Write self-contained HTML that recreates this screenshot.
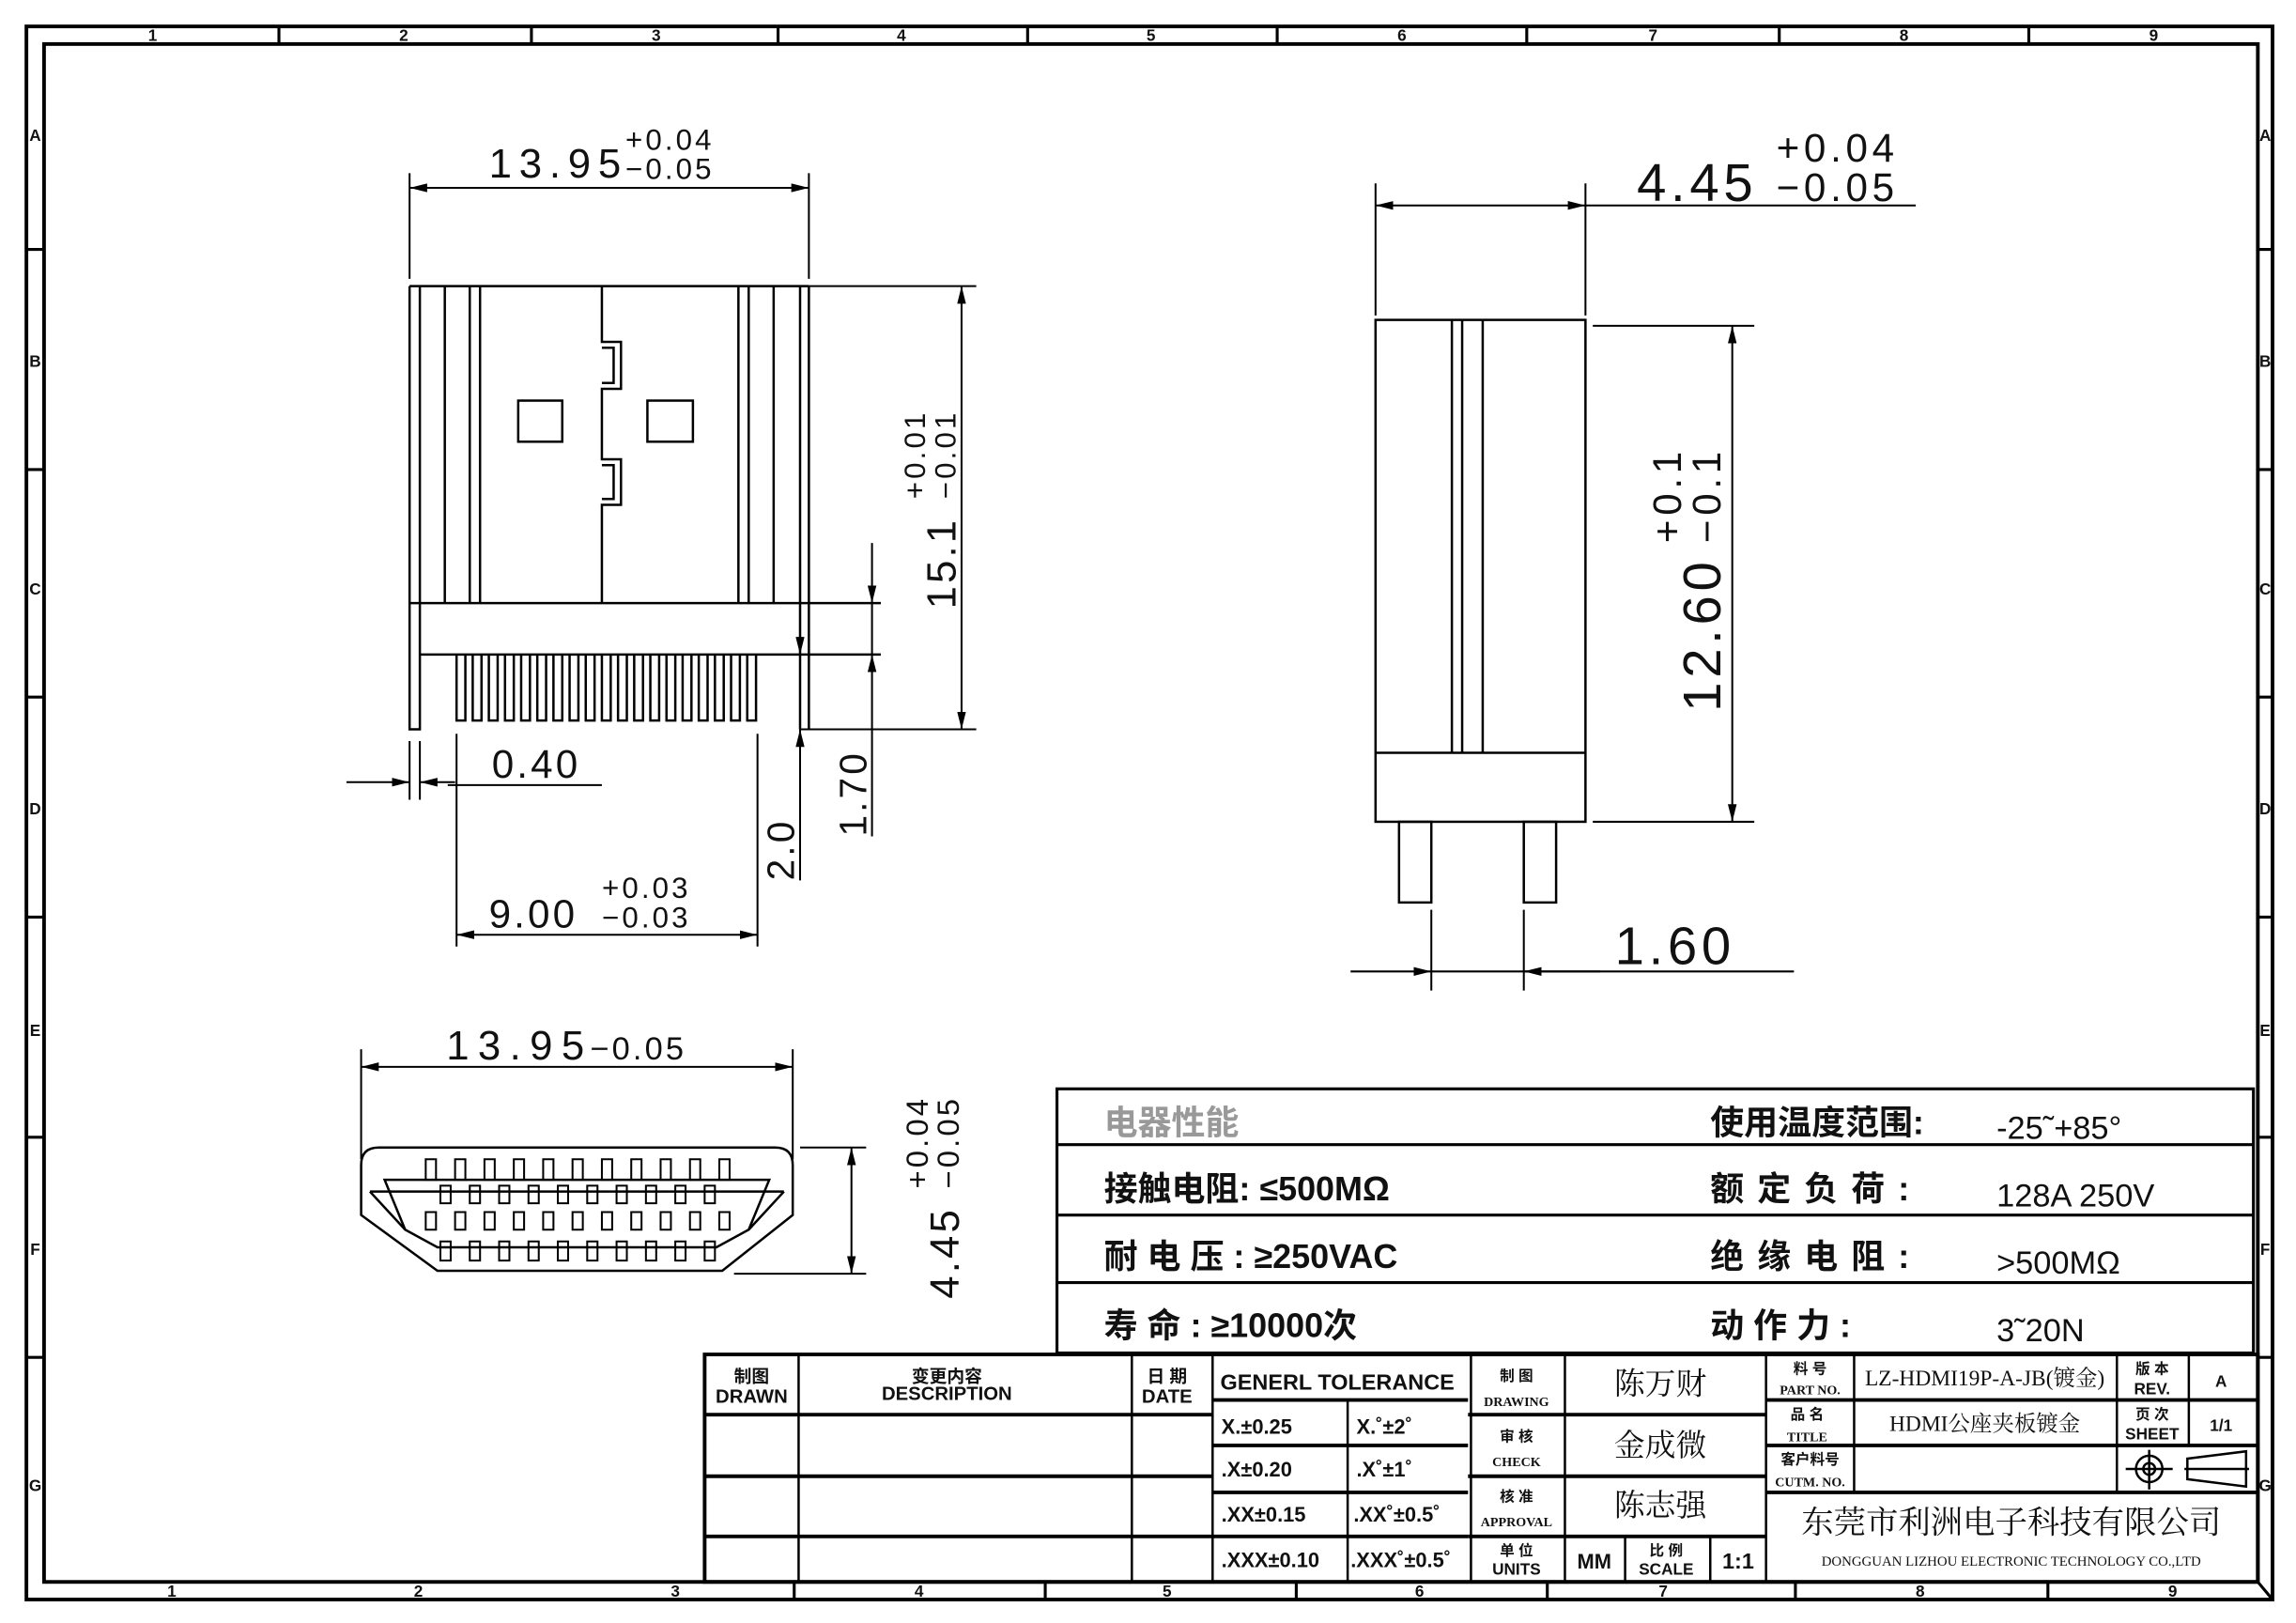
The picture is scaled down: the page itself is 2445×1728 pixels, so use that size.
<!DOCTYPE html>
<html><head><meta charset="utf-8"><style>
html,body{margin:0;padding:0;background:#fff;}
svg{display:block;}
text{font-family:"Liberation Sans","Noto Sans CJK SC",sans-serif;fill:#111;}
.sf{font-family:"Liberation Serif","Noto Serif CJK SC",serif;}
</style></head><body>
<svg width="2445" height="1728" viewBox="0 0 1564 1106" preserveAspectRatio="none" xmlns="http://www.w3.org/2000/svg">
<defs>
<marker id="a" viewBox="0 0 12 6" refX="12" refY="3" markerWidth="12" markerHeight="6" markerUnits="userSpaceOnUse" orient="auto-start-reverse"><path d="M0,0 L12,3 L0,6 z" fill="#000"/></marker>
</defs>
<rect width="1564" height="1106" fill="#fff"/>
<g fill="none" stroke="#000">
<rect x="18" y="18" width="1530" height="1072" stroke-width="2.5"/>
<rect x="30" y="30" width="1508" height="1048" stroke-width="2.5"/>
<g stroke-width="2">
<path d="M190,18V30 M362,18V30 M530,18V30 M700,18V30 M870,18V30 M1040,18V30 M1212,18V30 M1382,18V30"/>
<path d="M541,1078V1090 M712,1078V1090 M883,1078V1090 M1054,1078V1090 M1223,1078V1090 M1395,1078V1090"/>
<path d="M18,170H30 M18,320H30 M18,475H30 M18,625H30 M18,775H30 M18,925H30"/>
<path d="M1538,170H1548 M1538,320H1548 M1538,475H1548 M1538,625H1548 M1538,775H1548 M1538,925H1548"/>
<path d="M1538,1078 L1548,1090"/>
</g>
</g>
<g font-size="11" font-weight="bold" text-anchor="middle">
<text x="104" y="28">1</text><text x="275" y="28">2</text><text x="447" y="28">3</text><text x="614" y="28">4</text><text x="784" y="28">5</text><text x="955" y="28">6</text><text x="1126" y="28">7</text><text x="1297" y="28">8</text><text x="1467" y="28">9</text>
<text x="117" y="1088">1</text><text x="285" y="1088">2</text><text x="460" y="1088">3</text><text x="626" y="1088">4</text><text x="795" y="1088">5</text><text x="967" y="1088">6</text><text x="1133" y="1088">7</text><text x="1308" y="1088">8</text><text x="1480" y="1088">9</text>
<text x="24" y="96">A</text><text x="24" y="250">B</text><text x="24" y="405">C</text><text x="24" y="555">D</text><text x="24" y="706">E</text><text x="24" y="855">F</text><text x="24" y="1016">G</text>
<text x="1543" y="96">A</text><text x="1543" y="250">B</text><text x="1543" y="405">C</text><text x="1543" y="555">D</text><text x="1543" y="706">E</text><text x="1543" y="855">F</text><text x="1543" y="1016">G</text>
</g>

<g fill="none" stroke="#000" stroke-width="1.6">
<path d="M279,195H551 M279,195V497H286V195 M303,195V411 M320,195V411 M327,195V411 M410,195V233H423V265H410V313H423V344H410V411 M410,237H418V261H410 M410,317H418V340H410 M503,195V411 M510,195V411 M527,195V411 M545,195V497 M551,195V497"/>
<path d="M279,411H600 M286,446H600"/>
<rect x="353" y="273" width="30" height="28"/>
<rect x="441" y="273" width="31" height="28"/>
<path d="M311,446V491H317V446 M322,446V491H328V446 M333,446V491H339V446 M344,446V491H350V446 M355,446V491H361V446 M366,446V491H372V446 M377,446V491H383V446 M388,446V491H394V446 M399,446V491H405V446 M410,446V491H416V446 M421,446V491H427V446 M432,446V491H438V446 M443,446V491H449V446 M454,446V491H460V446 M465,446V491H471V446 M476,446V491H482V446 M487,446V491H493V446 M498,446V491H504V446 M509,446V491H515V446"/>
</g>
<g fill="none" stroke="#000" stroke-width="1.3">
<path d="M279,118V190 M551,118V190"/>
<line x1="279" y1="128" x2="551" y2="128" marker-start="url(#a)" marker-end="url(#a)"/>
<path d="M551,195H665 M545,497H665"/>
<line x1="655" y1="195" x2="655" y2="497" marker-start="url(#a)" marker-end="url(#a)"/>
<line x1="594" y1="370" x2="594" y2="411" marker-end="url(#a)"/>
<line x1="594" y1="570" x2="594" y2="446" marker-end="url(#a)"/>
<line x1="594" y1="411" x2="594" y2="446"/>
<line x1="545" y1="380" x2="545" y2="446" marker-end="url(#a)"/>
<line x1="545" y1="600" x2="545" y2="497" marker-end="url(#a)"/>
<path d="M279,505V545 M286,505V545"/>
<line x1="236" y1="533" x2="279" y2="533" marker-end="url(#a)"/>
<line x1="310" y1="533" x2="286" y2="533" marker-end="url(#a)"/>
<line x1="305" y1="535" x2="410" y2="535"/>
<path d="M311,500V645 M516,500V645"/>
<line x1="311" y1="637" x2="516" y2="637" marker-start="url(#a)" marker-end="url(#a)"/>
</g>
<g font-size="28" letter-spacing="2">
<text x="333" y="121" textLength="92">13.95</text>
<text x="426" y="102" font-size="20">+0.04</text>
<text x="426" y="122" font-size="20">−0.05</text>
<text x="335" y="530" font-size="27">0.40</text>
<text x="333" y="632" font-size="27">9.00</text>
<text x="410" y="612" font-size="20">+0.03</text>
<text x="410" y="632" font-size="20">−0.03</text>
<text transform="translate(651,415) rotate(-90)" font-size="28">15.1</text>
<text transform="translate(630,340) rotate(-90)" font-size="20">+0.01</text>
<text transform="translate(651,340) rotate(-90)" font-size="20">−0.01</text>
<text transform="translate(590,570) rotate(-90)" font-size="26">1.70</text>
<text transform="translate(541,600) rotate(-90)" font-size="26">2.0</text>
</g>

<g fill="none" stroke="#000" stroke-width="1.3">
<path d="M246,715V790 M540,715V790"/>
<line x1="246" y1="727" x2="540" y2="727" marker-start="url(#a)" marker-end="url(#a)"/>
<path d="M545,782H590 M500,868H590"/>
<line x1="580" y1="782" x2="580" y2="868" marker-start="url(#a)" marker-end="url(#a)"/>
</g>
<g fill="none" stroke="#000" stroke-width="1.6">
<path d="M258,782H528Q540,782 540,794V828L492,866H298L246,828V794Q246,782 258,782Z"/>
<path d="M262,804H524L510,838L488,850H298L276,838Z"/>
<path d="M252,812H534 M252,812L276,838 M534,812L510,838"/>
<g stroke-width="1.3">
<path d="M290,790h7v14h-7z M310,790h7v14h-7z M330,790h7v14h-7z M350,790h7v14h-7z M370,790h7v14h-7z M390,790h7v14h-7z M410,790h7v14h-7z M430,790h7v14h-7z M450,790h7v14h-7z M470,790h7v14h-7z M490,790h7v14h-7z"/>
<path d="M300,808h7v12h-7z M320,808h7v12h-7z M340,808h7v12h-7z M360,808h7v12h-7z M380,808h7v12h-7z M400,808h7v12h-7z M420,808h7v12h-7z M440,808h7v12h-7z M460,808h7v12h-7z M480,808h7v12h-7z"/>
<path d="M290,826h7v12h-7z M310,826h7v12h-7z M330,826h7v12h-7z M350,826h7v12h-7z M370,826h7v12h-7z M390,826h7v12h-7z M410,826h7v12h-7z M430,826h7v12h-7z M450,826h7v12h-7z M470,826h7v12h-7z M490,826h7v12h-7z"/>
<path d="M300,846h7v13h-7z M320,846h7v13h-7z M340,846h7v13h-7z M360,846h7v13h-7z M380,846h7v13h-7z M400,846h7v13h-7z M420,846h7v13h-7z M440,846h7v13h-7z M460,846h7v13h-7z M480,846h7v13h-7z"/>
</g>
</g>
<g font-size="28" letter-spacing="2">
<text x="304" y="722" textLength="96">13.95</text>
<text x="402" y="722" font-size="22">−0.05</text>
<text transform="translate(653,885) rotate(-90)" font-size="28">4.45</text>
<text transform="translate(632,810) rotate(-90)" font-size="21">+0.04</text>
<text transform="translate(653,810) rotate(-90)" font-size="21">−0.05</text>
</g>

<g fill="none" stroke="#000" stroke-width="1.6">
<rect x="937" y="218" width="143" height="342"/>
<path d="M937,513H1080 M989,218V513 M996,218V513 M1010,218V513"/>
<rect x="953" y="560" width="22" height="55"/>
<rect x="1038" y="560" width="22" height="55"/>
</g>
<g fill="none" stroke="#000" stroke-width="1.3">
<path d="M937,125V215 M1080,125V215"/>
<line x1="937" y1="140" x2="1080" y2="140" marker-start="url(#a)" marker-end="url(#a)"/>
<line x1="1080" y1="140" x2="1305" y2="140"/>
<path d="M1085,222H1195 M1085,560H1195"/>
<line x1="1180" y1="222" x2="1180" y2="560" marker-start="url(#a)" marker-end="url(#a)"/>
<path d="M975,620V675 M1038,620V675"/>
<line x1="920" y1="662" x2="975" y2="662" marker-end="url(#a)"/>
<line x1="1090" y1="662" x2="1038" y2="662" marker-end="url(#a)"/>
<line x1="975" y1="662" x2="1222" y2="662"/>
</g>
<g font-size="36" letter-spacing="3">
<text x="1115" y="137">4.45</text>
<text x="1210" y="110" font-size="27">+0.04</text>
<text x="1210" y="137" font-size="27">−0.05</text>
<text x="1100" y="657">1.60</text>
<text transform="translate(1172,485) rotate(-90)">12.60</text>
<text transform="translate(1145,370) rotate(-90)" font-size="27">+0.1</text>
<text transform="translate(1172,370) rotate(-90)" font-size="27">−0.1</text>
</g>

<g fill="none" stroke="#000" stroke-width="2">
<rect x="720" y="742" width="815" height="180"/>
<path d="M720,780H1535 M720,828H1535 M720,874H1535"/>
</g>
<g font-size="23" font-weight="bold" fill="#222">
<text x="752" y="773" style="fill:#999">电器性能</text>
<text x="1165" y="773">使用温度范围:</text>
<text x="752" y="818">接触电阻: ≤500MΩ</text>
<text x="1165" y="818" letter-spacing="9">额定负荷:</text>
<text x="752" y="864">耐 电 压 : ≥250VAC</text>
<text x="1165" y="864" letter-spacing="9">绝缘电阻:</text>
<text x="752" y="911">寿  命  : ≥10000次</text>
<text x="1165" y="911">动  作  力  :</text>
</g>
<g font-size="22" fill="#222">
<text x="1360" y="776">-25˜+85°</text>
<text x="1360" y="822">128A 250V</text>
<text x="1360" y="868">&gt;500MΩ</text>
<text x="1360" y="914">3˜20N</text>
</g>

<g fill="none" stroke="#000">
<rect x="480" y="923" width="1058" height="155" stroke-width="2.5"/>
<g stroke-width="2.5">
<path d="M480,964H826 M480,1006H826 M480,1047H826"/>
<path d="M826,954H1000 M826,985H1000 M826,1017H1000 M826,1047H1000"/>
<path d="M1000,964H1203 M1000,1006H1203 M1000,1047H1203"/>
<path d="M1203,954H1538 M1203,985H1538 M1203,1017H1538"/>
</g>
<g stroke-width="1.6">
<path d="M544,923V1078 M771,923V1078 M826,923V1078 M918,954V1078 M1002,923V1078 M1066,923V1078 M1107,1047V1078 M1165,1047V1078 M1203,923V1078 M1263,923V1017 M1442,923V1017 M1491,923V985"/>
</g>
<circle cx="1464" cy="1001" r="9" stroke-width="1.6"/>
<circle cx="1464" cy="1001" r="4" stroke-width="1.6"/>
<path d="M1448,1001H1480 M1464,988V1015 M1490,994L1530,989V1013L1490,1008Z M1488,1001H1532" stroke-width="1.6"/>
</g>
<g font-weight="bold" font-size="14">
<text x="832" y="977">X.±0.25</text>
<text x="924" y="977">X.˚±2˚</text>
<text x="832" y="1006">.X±0.20</text>
<text x="924" y="1006">.X˚±1˚</text>
<text x="832" y="1037">.XX±0.15</text>
<text x="922" y="1037">.XX˚±0.5˚</text>
<text x="832" y="1068">.XXX±0.10</text>
<text x="920" y="1068">.XXX˚±0.5˚</text>
</g>
<g text-anchor="middle" font-weight="bold">
<text x="512" y="942" font-size="12">制图</text><text x="512" y="956" font-size="13">DRAWN</text>
<text x="645" y="942" font-size="12">变更内容</text><text x="645" y="954" font-size="13">DESCRIPTION</text>
<text x="795" y="942" font-size="12">日 期</text><text x="795" y="956" font-size="13">DATE</text>
<text x="911" y="947" font-size="15">GENERL TOLERANCE</text>
<text x="1033" y="941" font-size="10">制 图</text><text x="1033" y="958" font-size="9" class="sf">DRAWING</text>
<text x="1033" y="982" font-size="10">审 核</text><text x="1033" y="999" font-size="9" class="sf">CHECK</text>
<text x="1033" y="1023" font-size="10">核 准</text><text x="1033" y="1040" font-size="9" class="sf">APPROVAL</text>
<text x="1033" y="1060" font-size="10">单 位</text><text x="1033" y="1073" font-size="11">UNITS</text>
<text x="1086" y="1069" font-size="14">MM</text>
<text x="1135" y="1060" font-size="10">比 例</text><text x="1135" y="1073" font-size="11">SCALE</text>
<text x="1184" y="1069" font-size="15">1:1</text>
<text x="1233" y="936" font-size="10">料 号</text><text x="1233" y="950" font-size="9" class="sf">PART NO.</text>
<text x="1231" y="967" font-size="10">品 名</text><text x="1231" y="982" font-size="9" class="sf">TITLE</text>
<text x="1233" y="998" font-size="10">客户料号</text><text x="1233" y="1013" font-size="9" class="sf">CUTM. NO.</text>
<text x="1466" y="936" font-size="10">版 本</text><text x="1466" y="950" font-size="11">REV.</text>
<text x="1513" y="945" font-size="11">A</text>
<text x="1466" y="967" font-size="10">页 次</text><text x="1466" y="981" font-size="11">SHEET</text>
<text x="1513" y="975" font-size="11">1/1</text>
</g>
<g text-anchor="middle">
<text class="sf" x="1131" y="950" font-size="21">陈万财</text>
<text class="sf" x="1131" y="992" font-size="21">金成微</text>
<text class="sf" x="1131" y="1033" font-size="21">陈志强</text>
<text class="sf" x="1352" y="944" font-size="15" fill="#333">LZ-HDMI19P-A-JB(镀金)</text>
<text class="sf" x="1352" y="975" font-size="15" fill="#333">HDMI公座夹板镀金</text>
<text class="sf" x="1370" y="1045" font-size="22">东莞市利洲电子科技有限公司</text>
<text class="sf" x="1370" y="1067" font-size="9.5">DONGGUAN LIZHOU ELECTRONIC TECHNOLOGY CO.,LTD</text>
</g>
</svg>
</body></html>
